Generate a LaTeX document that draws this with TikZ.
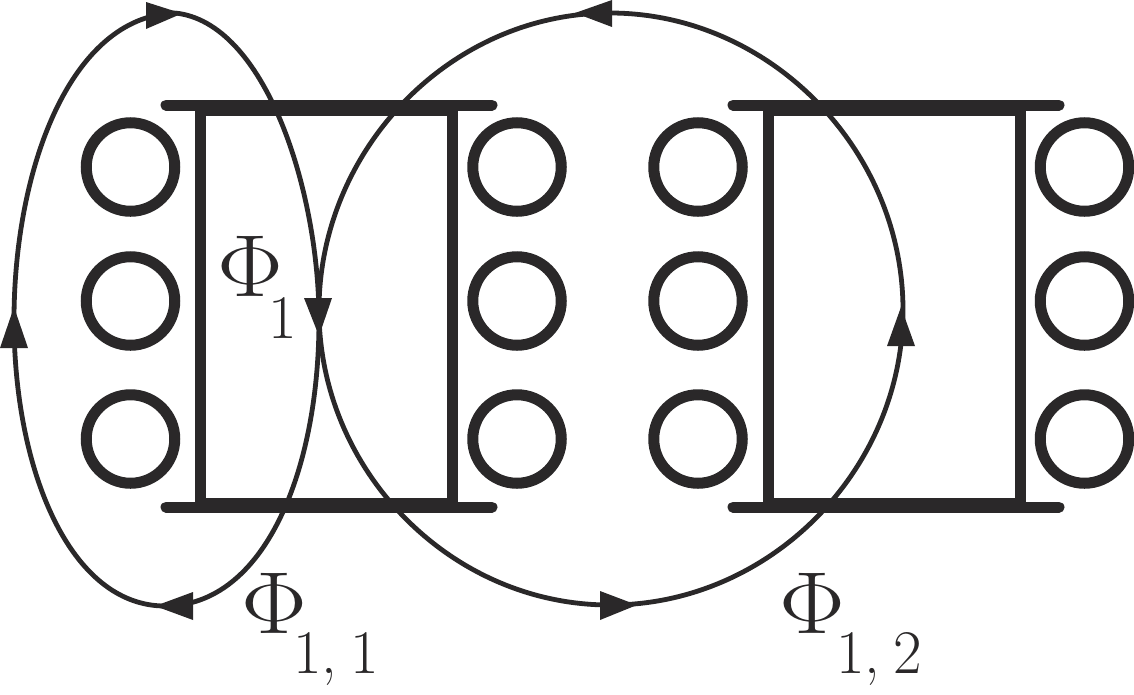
\documentclass[tikz,border=0pt]{standalone}
\font\phifont=cmr17 at 88pt
\font\subfont=cmr17 at 62pt
\tikzset{
 px/.style={x=1pt,y=-1pt},
 ring/.style={circle,draw=ink,line width=11pt,minimum size=88.5pt,inner sep=0pt},
 bar/.style={draw=ink,line width=11pt,line cap=round},
 post/.style={draw=ink,line width=11pt},
 loopline/.style={draw=ink,line width=4.8pt},
 big/.style={inner sep=0pt,text=ink,anchor=base,font=\phifont,xscale=1.12},
 small/.style={inner sep=0pt,text=ink,anchor=base,font=\subfont},
}
\definecolor{ink}{HTML}{2A2829}
\begin{document}
\begin{tikzpicture}[px]
\useasboundingbox (0,0) rectangle (1134,694);
\foreach \n/\x/\y in {a/130.5/167,b/130.5/301,c/130.5/439,d/517/167,e/517/301,f/517/439,g/698/167,h/698/301,i/698/439,j/1084.5/167,k/1084.5/301,l/1084.5/439}
  \node[ring] (\n) at (\x,\y) {};
% brackets
\coordinate (A1) at (166,105); \coordinate (A2) at (492,105);
\coordinate (A3) at (166,507); \coordinate (A4) at (492,507);
\coordinate (B1) at (733,105); \coordinate (B2) at (1059,105);
\coordinate (B3) at (733,507); \coordinate (B4) at (1059,507);
\draw[bar] (A1)--(A2); \draw[bar] (A3)--(A4); \draw[bar] (B1)--(B2); \draw[bar] (B3)--(B4);
\draw[post] (200,110) rectangle (452,503);
\draw[post] (768,110) rectangle (1020,503);
% loops
\coordinate (L1) at (175,13); \coordinate (L2) at (319,320); \coordinate (L3) at (165,606); \coordinate (L4) at (14,320);
\draw[loopline] (L1) .. controls (265,22) and (319,190) .. (L2)
  .. controls (319,470) and (265,606) .. (L3)
  .. controls (70,606) and (14,470) .. (L4)
  .. controls (14,170) and (70,16) .. (L1);
\coordinate (M1) at (610,13); \coordinate (M2) at (903,310); \coordinate (M3) at (610,605); \coordinate (M4) at (319,310);
\draw[loopline] (M1) .. controls (770,13) and (903,150) .. (M2)
  .. controls (903,470) and (770,605) .. (M3)
  .. controls (450,605) and (319,470) .. (M4)
  .. controls (319,150) and (450,13) .. (M1);
% arrowheads
\fill[ink] (146,2)--(182,13.5)--(146,29)--cycle;
\fill[ink] (193,592)--(155,606)--(193,620)--cycle;
\fill[ink] (14,307)--(0,348)--(28,348)--cycle;
\fill[ink] (304,298)--(319,336)--(332,298)--cycle;
\fill[ink] (612,0)--(575,13)--(612,27)--cycle;
\fill[ink] (600,591)--(637,605)--(600,620)--cycle;
\fill[ink] (901,307)--(887,346)--(915,346)--cycle;
% labels
\node[big] (p1) at (250,296) {\char"08};
\node[small] (s1) at (283,338) {1};
\node[big] (p2) at (274,633) {\char"08};
\node[small] (s2) at (336,673) {1,\kern13pt 1};
\node[big] (p3) at (812,633) {\char"08};
\node[small] (s3) at (879,673) {1,\kern13pt 2};
\end{tikzpicture}
\end{document}
